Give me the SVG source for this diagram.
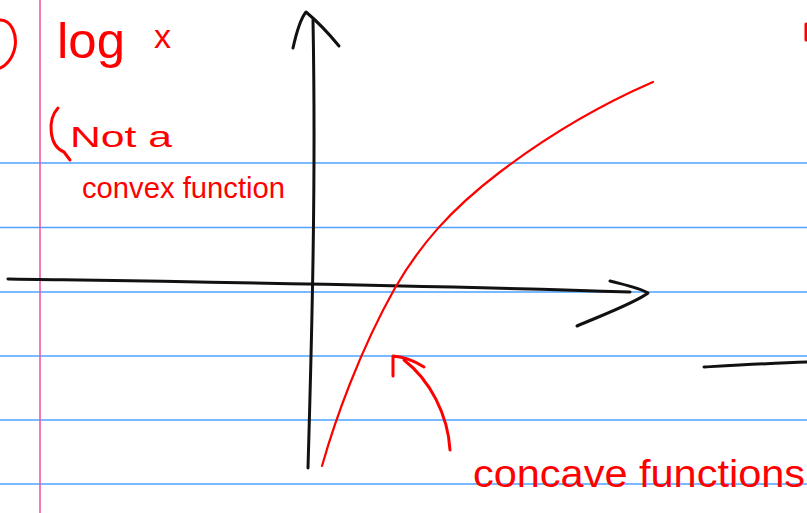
<svg xmlns="http://www.w3.org/2000/svg" width="807" height="513" viewBox="0 0 807 513">
<style>
.rule{stroke:#4da3ff;stroke-width:1.3}
.margin{stroke:#f0509a;stroke-width:1.5}
.ink{fill:none;stroke:#111;stroke-width:3;stroke-linecap:round;stroke-linejoin:round}
.red{fill:none;stroke:#f00;stroke-width:2.2;stroke-linecap:round;stroke-linejoin:round}
.redb{fill:none;stroke:#f00;stroke-width:3;stroke-linecap:round;stroke-linejoin:round}
.hand{fill:#f00;font-family:"Liberation Sans",Arial,sans-serif}
</style>
<rect width="807" height="513" fill="#fff"/>
<g id="paper">
<line class="rule" x1="0" y1="163" x2="807" y2="163"/>
<line class="rule" x1="0" y1="227.5" x2="807" y2="227.5"/>
<line class="rule" x1="0" y1="292" x2="807" y2="292"/>
<line class="rule" x1="0" y1="356" x2="807" y2="356"/>
<line class="rule" x1="0" y1="420" x2="807" y2="420"/>
<line class="rule" x1="0" y1="484" x2="807" y2="484"/>
<line class="margin" x1="40" y1="0" x2="40" y2="513"/>
</g>
<g id="axes">
<path class="ink" d="M308,468 C312,330 316,180 313,20"/>
<path class="ink" d="M293,48 C297,30 301,18 306,12 C318,22 330,35 339,46"/>
<path class="ink" d="M8,279 C200,282 420,285 630,292"/>
<path class="ink" d="M610,281 C625,285 640,288 648,293 C635,303 600,316 577,326"/>
<path class="ink" d="M704,367 C740,365 775,363 807,362"/>
</g>
<g id="curve">
<path class="red" d="M322,466 C335,420 360,350 395,288 C420,245 450,210 500,172 C550,134 600,105 653,82"/>
</g>
<g id="pointer">
<path class="redb" d="M450,450 C448,415 430,380 404,360"/>
<path class="redb" d="M393,376 L393,356 C403,357 415,361 424,367"/>
</g>
<g id="labels">
<path class="redb" d="M0,20 C12,20 17,35 15,47 C13,58 6,66 0,68"/>
<path class="redb" d="M806,24 L806,40"/>
<text class="hand" x="57" y="58" font-size="50" textLength="68" lengthAdjust="spacingAndGlyphs">log</text>
<text class="hand" x="154" y="48" font-size="34">x</text>
<path class="redb" d="M58,108 C47,120 49,146 64,152 L70,160"/>
<text class="hand" x="70" y="147" font-size="30" textLength="102" lengthAdjust="spacingAndGlyphs">Not a</text>
<text class="hand" x="82" y="198" font-size="30" textLength="203" lengthAdjust="spacingAndGlyphs">convex function</text>
<text class="hand" x="473" y="487" font-size="38" textLength="332" lengthAdjust="spacingAndGlyphs">concave functions</text>
</g>
</svg>
